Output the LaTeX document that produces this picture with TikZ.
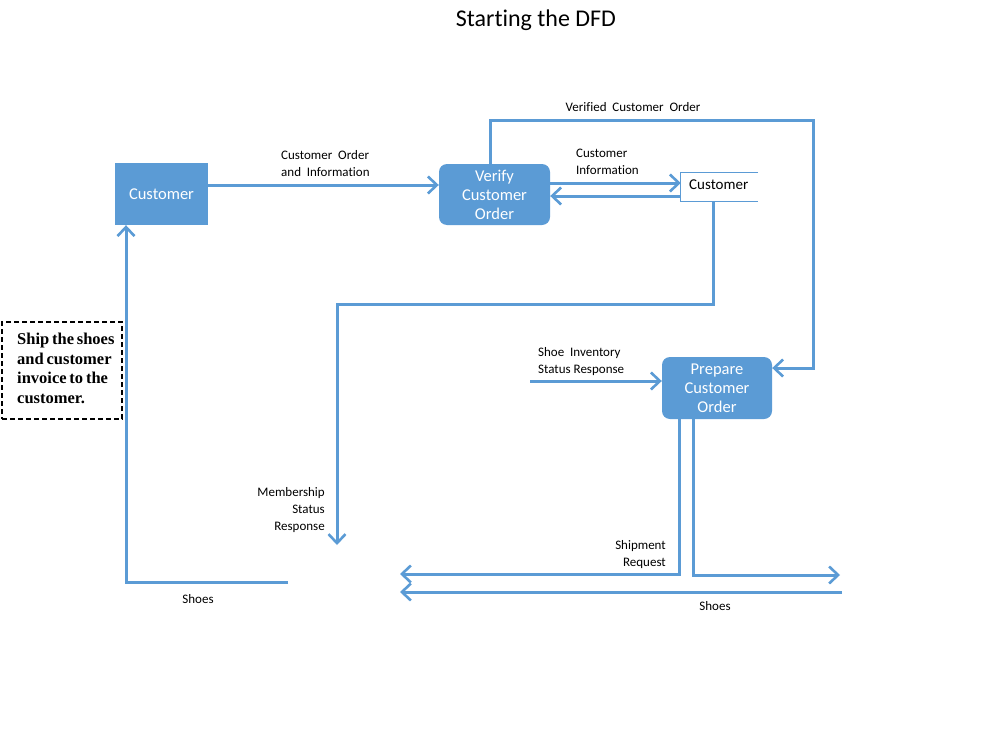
\documentclass[tikz,border=0pt]{standalone}
\usepackage{fontspec}
\setmainfont{Carlito}[Ligatures=NoCommon]
\newfontfamily\timesb{Liberation Serif}
\usetikzlibrary{arrows.meta}
\definecolor{dfdblue}{HTML}{5B9BD5}
\newcommand{\notespace}{\spaceskip=0.17em plus 0.05em\relax}
\begin{document}
\begin{tikzpicture}[x=1pt,y=-1pt,
  flow/.style={draw=dfdblue,line width=3pt,-{Straight Barb[length=9pt,width=17pt,line width=2.6pt]}},
  lbl/.style={font=\fontsize{13}{16.8}\selectfont,inner sep=0pt},
  proc/.style={fill=dfdblue,rounded corners=8pt,text=white,align=center,font=\fontsize{16.5}{19}\selectfont,inner sep=0pt},
]
\useasboundingbox (0,0) rectangle (1002,739);
\node[font=\fontsize{24}{26}\selectfont] (title) at (536,20) {Starting the DFD};
% entities and processes
\node[fill=dfdblue,text=white,minimum width=93pt,minimum height=62pt,inner sep=0pt,font=\fontsize{16.5}{19}\selectfont] (cust) at (161.5,194) {Customer};
\node[proc,minimum width=111pt,minimum height=61pt] (verify) at (494.5,194.5) {Verify\\Customer\\Order};
\node[proc,minimum width=110pt,minimum height=62pt] (prep) at (717,388) {Prepare\\Customer\\Order};
% data store
\node[minimum width=77pt,minimum height=28pt,inner sep=0pt] (ds) at (719.5,187) {};
\node[font=\fontsize{15}{18}\selectfont,anchor=west,inner sep=0pt] (dstxt) at (689,185) {Customer};
\draw[dfdblue,line width=1.2pt] (ds.north east) -- (ds.north west) -- (ds.south west) -- (ds.south east);
% dashed note
\node[draw,dash pattern=on 5pt off 3pt,line width=1.4pt,minimum width=120pt,minimum height=97pt,inner sep=0pt] (note) at (62,370.5) {};
\node[anchor=north west,align=left,inner sep=0pt,font=\timesb\bfseries\fontsize{16.5}{19.5}\selectfont] (notetxt) at (17,333) {\notespace Ship the shoes\\\notespace and customer\\\notespace invoice to the\\customer.};
% coordinates
\coordinate (a1) at (530,381);
\coordinate (ls) at (288,582);
\coordinate (sr) at (842,592);
\coordinate (sl) at (400,592);
\coordinate (shipend) at (400,574);
\coordinate (shoesend) at (840,575);
\coordinate (msend) at (337,545);
% connectors
\draw[flow] (cust.east |- 0,185) -- (verify.west |- 0,185);
\draw[flow] (verify.east |- 0,183) -- (ds.west |- 0,183);
\draw[flow] (ds.west |- 0,196) -- (verify.east |- 0,196);
\draw[flow] (verify.north -| 490,0) |- (813,120) |- (prep.east |- 0,368);
\draw[flow] (ds.south -| 713,0) |- (337,304) -- (msend);
\draw[flow] (a1) -- (prep.west |- a1);
\draw[flow] (prep.south -| 679,0) |- (shipend);
\draw[flow] (prep.south -| 693,0) |- (shoesend);
\draw[flow] (sr) -- (sl);
\draw[flow] (ls) -| (cust.south -| 126,0);
% labels
\node[lbl,anchor=north west,align=left] (l1) at (281,150.5) {Customer\ \ Order\\and\ \ Information};
\node[lbl,anchor=north west,align=left] (l2) at (576,149) {Customer\\Information};
\node[lbl,anchor=center] (l3) at (633,107) {Verified\ \ Customer\ \ Order};
\node[lbl,anchor=north east,align=right] (l4) at (325,487.5) {Membership\\Status\\Response};
\node[lbl,anchor=north west,align=left] (l5) at (538,347) {Shoe\ \ Inventory\\Status Response};
\node[lbl,anchor=north east,align=right] (l6) at (666,540) {Shipment\\Request};
\node[lbl] (l7) at (715,606) {Shoes};
\node[lbl] (l8) at (198,599) {Shoes};
\end{tikzpicture}
\end{document}
